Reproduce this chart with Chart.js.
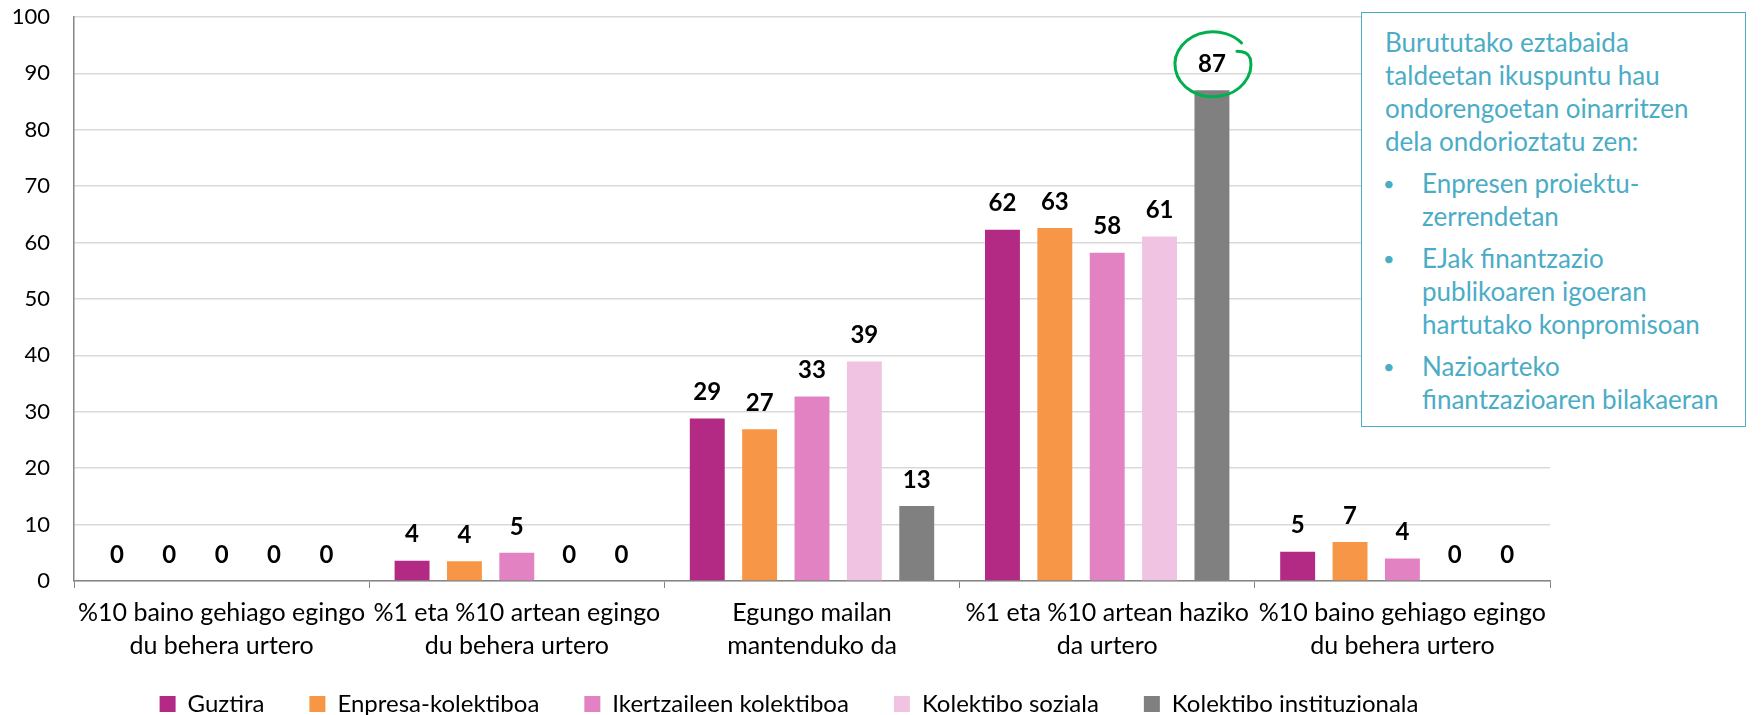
<!DOCTYPE html>
<html>
<head>
<meta charset="utf-8">
<script src="https://cdn.jsdelivr.net/npm/chart.js@4"></script>
<style>
  body { margin: 0; background: #fff; }
  #wrap { position: relative; width: 1761px; height: 715px; }
  #note {
    position: absolute; left: 1361px; top: 12px; width: 385px; height: 415px;
    border: 1.5px solid #4BACC6; background: #fff; box-sizing: border-box;
    font-family: Lato, sans-serif; font-size: 26px; line-height: 33px; color: #4BACC6;
    padding: 13px 0 0 23px;
  }
  #note ul { margin: 9px 0 0 0; padding: 0; list-style: none; }
  #note li { position: relative; padding-left: 37px; margin-bottom: 9px; }
  #note li:before { content: "\2022"; position: absolute; left: -2px; top: 0; font-size: 20px; }
</style>
</head>
<body>
<div id="wrap">
  <canvas id="chart" width="1761" height="715"></canvas>
  <div id="note">
    Burututako eztabaida<br>taldeetan ikuspuntu hau<br>ondorengoetan oinarritzen<br>dela ondorioztatu zen:
    <ul>
      <li>Enpresen proiektu-<br>zerrendetan</li>
      <li>EJak finantzazio<br>publikoaren igoeran<br>hartutako konpromisoan</li>
      <li>Nazioarteko<br>finantzazioaren bilakaeran</li>
    </ul>
  </div>
</div>
<script>
const categories = [
  ['%10 baino gehiago egingo', 'du behera urtero'],
  ['%1 eta %10 artean egingo', 'du behera urtero'],
  ['Egungo mailan', 'mantenduko da'],
  ['%1 eta %10 artean haziko', 'da urtero'],
  ['%10 baino gehiago egingo', 'du behera urtero']
];
const guztira = [0, 3.6, 28.8, 62.3, 5.2];
const enpresa = [0, 3.5, 26.9, 62.6, 6.9];
const ikertzaile = [0, 5.0, 32.7, 58.2, 4.0];
const soziala = [0, 0, 38.9, 61.1, 0];
const instituzionala = [0, 0, 13.3, 87, 0];
const yTicks = [0, 10, 20, 30, 40, 50, 60, 70, 80, 90, 100];

const font = 'Lato, sans-serif';

// value labels above the bars
const valueLabels = {
  id: 'valueLabels',
  afterDatasetsDraw(chart) {
    const ctx = chart.ctx;
    ctx.save();
    ctx.font = 'bold 24px ' + font;
    ctx.fillStyle = '#000';
    ctx.textAlign = 'center';
    ctx.textBaseline = 'middle';
    chart.data.datasets.forEach((ds, i) => {
      chart.getDatasetMeta(i).data.forEach((bar, j) => {
        ctx.fillText(Math.round(ds.data[j]), bar.x, bar.y - 26);
      });
    });
    ctx.restore();
  }
};

// hand drawn green ring round the highest value
const ring = {
  id: 'ring',
  afterDraw(chart) {
    const bar = chart.getDatasetMeta(4).data[3];
    const cx = bar.x + 1, cy = bar.y - 26;
    const ctx = chart.ctx;
    ctx.save();
    ctx.strokeStyle = '#00B050';
    ctx.lineWidth = 3;
    ctx.lineCap = 'round';
    ctx.beginPath();
    ctx.moveTo(cx + 24, cy - 13);
    ctx.quadraticCurveTo(cx + 35, cy - 13, cx + 37.4, cy - 5.6);
    ctx.ellipse(cx, cy, 38, 32.5, 0, -0.17, 2 * Math.PI - 0.72);
    ctx.stroke();
    ctx.restore();
  }
};

// legend keeps wide item gaps but sits lower than its padding would put it
const legendShift = {
  id: 'legendShift',
  afterLayout(chart) {
    const lg = chart.legend;
    lg.top -= 18;
    lg.height = 90;
    lg.bottom = lg.top + 90;
    lg.left += 14;
    lg.right += 14;
  }
};

new Chart(document.getElementById('chart'), {
  type: 'bar',
  data: {
    labels: categories,
    datasets: [
      { label: 'Guztira', data: guztira, backgroundColor: '#B22A83' },
      { label: 'Enpresa-kolektiboa', data: enpresa, backgroundColor: '#F79646' },
      { label: 'Ikertzaileen kolektiboa', data: ikertzaile, backgroundColor: '#E282C2' },
      { label: 'Kolektibo soziala', data: soziala, backgroundColor: '#F0C3E2' },
      { label: 'Kolektibo instituzionala', data: instituzionala, backgroundColor: '#808080' }
    ]
  },
  options: {
    responsive: false,
    animation: false,
    devicePixelRatio: 1,
    categoryPercentage: 0.887,
    barPercentage: 0.667,
    layout: { padding: { top: 0, right: 211, left: 0, bottom: 0 } },
    plugins: {
      tooltip: { enabled: false },
      legend: {
        position: 'bottom',
        maxHeight: 50,
        labels: {
          boxWidth: 16, boxHeight: 16, padding: 45,
          color: '#000', font: { family: font, size: 24 }
        }
      }
    },
    scales: {
      x: {
        afterFit(scale) { scale.height = 84; },
        grid: { drawOnChartArea: false, offset: true, tickLength: 7, color: '#868686' },
        border: { color: '#868686', width: 1.5 },
        ticks: { color: '#000', padding: 8, font: { family: font, size: 25, lineHeight: 1.32 }, maxRotation: 0 }
      },
      y: {
        min: 0, max: 100,
        afterFit(scale) {
          scale.width = 74;
          scale.paddingTop = 17;
          scale.paddingBottom = 0;
        },
        afterBuildTicks(scale) { scale.ticks = yTicks.map(v => ({ value: v })); },
        grid: { color: '#D9D9D9', lineWidth: 1.5, drawTicks: false },
        border: { color: '#868686', width: 1.5 },
        ticks: { color: '#000', padding: 24, font: { family: font, size: 22 } }
      }
    }
  },
  plugins: [valueLabels, ring, legendShift]
});
</script>
</body>
</html>
